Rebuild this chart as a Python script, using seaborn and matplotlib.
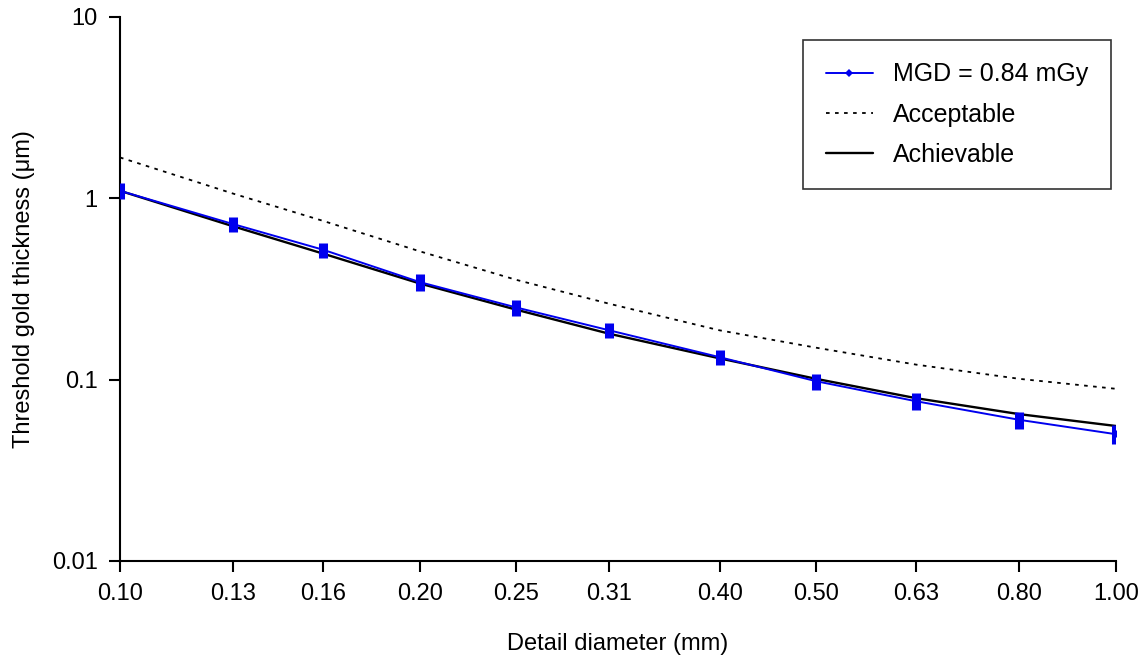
import matplotlib
matplotlib.use("Agg")
import matplotlib.pyplot as plt
import seaborn as sns
import pandas as pd
from matplotlib.ticker import FixedLocator, FixedFormatter, NullLocator

# ---- data ----
diameters = [0.10, 0.13, 0.16, 0.20, 0.25, 0.31, 0.40, 0.50, 0.63, 0.80, 1.00]
x_labels = ["0.10", "0.13", "0.16", "0.20", "0.25", "0.31", "0.40", "0.50", "0.63", "0.80", "1.00"]
mgd_values = [1.10, 0.72, 0.52, 0.345, 0.25, 0.187, 0.133, 0.098, 0.076, 0.060, 0.050]
mgd_errors = [0.11, 0.07, 0.05, 0.035, 0.025, 0.018, 0.013, 0.010, 0.008, 0.0065, 0.006]
acceptable = [1.68, 1.06, 0.75, 0.51, 0.355, 0.262, 0.187, 0.150, 0.121, 0.101, 0.089]
achievable = [1.10, 0.70, 0.495, 0.339, 0.243, 0.179, 0.131, 0.101, 0.079, 0.0645, 0.0555]
y_ticks = [0.01, 0.1, 1, 10]
y_labels = ["0.01", "0.1", "1", "10"]

sns.set_style("ticks")
plt.rcParams["font.family"] = ["Liberation Sans", "DejaVu Sans"]
plt.rcParams["text.color"] = "black"
plt.rcParams["axes.labelcolor"] = "black"

fig = plt.figure(figsize=(11.46, 6.71), dpi=100)
ax = fig.add_axes([0.1047, 0.164, 0.8691, 0.8107])

df = pd.DataFrame({"d": diameters, "mgd": mgd_values,
                   "acc": acceptable, "ach": achievable})

sns.lineplot(data=df, x="d", y="acc", ax=ax, color="black", lw=1.3,
             linestyle=(0, (2, 3)), label="Acceptable", zorder=2)
sns.lineplot(data=df, x="d", y="ach", ax=ax, color="black", lw=1.7,
             label="Achievable", zorder=3)
ax.errorbar(diameters, mgd_values, yerr=mgd_errors, fmt="none",
            ecolor="#0000ee", elinewidth=6.5, capsize=0, zorder=4)
sns.lineplot(data=df, x="d", y="mgd", ax=ax, color="#0000ee", lw=1.4,
             marker="D", markersize=4, markeredgewidth=0,
             label="MGD = 0.84 mGy", zorder=5)

ax.set_xscale("log")
ax.set_yscale("log")
ax.set_xlim(0.1, 1.0)
ax.set_ylim(0.01, 10)

ax.xaxis.set_major_locator(FixedLocator(diameters))
ax.xaxis.set_major_formatter(FixedFormatter(x_labels))
ax.xaxis.set_minor_locator(NullLocator())
ax.yaxis.set_major_locator(FixedLocator(y_ticks))
ax.yaxis.set_major_formatter(FixedFormatter(y_labels))
ax.yaxis.set_minor_locator(NullLocator())

for s in ["top", "right"]:
    ax.spines[s].set_visible(False)
for s in ["left", "bottom"]:
    ax.spines[s].set_linewidth(1.5)
    ax.spines[s].set_color("black")
ax.tick_params(axis="both", which="major", direction="out", length=8,
               width=1.5, labelsize=17, colors="black", labelcolor="black", pad=8)

ax.set_xlabel("Detail diameter (mm)", fontsize=17, labelpad=20, color="black")
ax.set_ylabel("Threshold gold thickness (\u03bcm)", fontsize=17, labelpad=12, color="black")

handles, labels = ax.get_legend_handles_labels()
order = [labels.index("MGD = 0.84 mGy"), labels.index("Acceptable"), labels.index("Achievable")]
leg = ax.legend([handles[i] for i in order], [labels[i] for i in order],
                loc="upper right", bbox_to_anchor=(0.995, 0.958), fontsize=18,
                frameon=True, fancybox=False, edgecolor="black",
                borderpad=0.9, labelspacing=0.65, handlelength=1.9,
                handletextpad=0.8, borderaxespad=0.0)
leg.get_frame().set_linewidth(1.2)
for t in leg.get_texts():
    t.set_color("black")

fig.savefig("out.png", dpi=100)
